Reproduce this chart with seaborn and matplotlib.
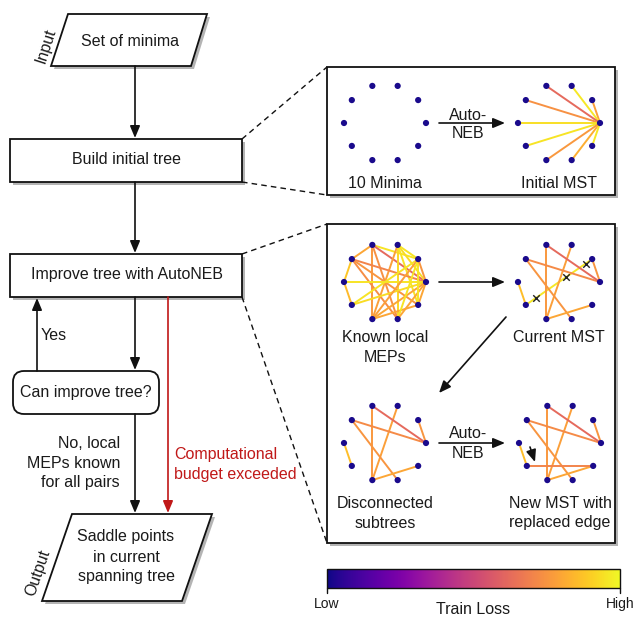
import numpy as np
import pandas as pd
import seaborn as sns
import matplotlib
matplotlib.use("Agg")
import matplotlib.pyplot as plt
from matplotlib.patches import Polygon, Rectangle, FancyBboxPatch, FancyArrowPatch

sns.set_theme(style="white")
plt.rcParams['font.family'] = ['Liberation Sans', 'DejaVu Sans']

# plasma is the train loss scale, nodes are the low end
cmap = sns.color_palette("plasma", as_cmap=True)
node_color = '#1a0a8c'
red = '#c01818'

# 10 minima, numbered counter-clockwise starting from the rightmost one
n_minima = 10
# edges: (minimum i, minimum j, train loss on 0..1)
initial_mst = [(0, 1, 0.78), (0, 2, 0.96), (0, 3, 0.62), (0, 4, 0.74), (0, 5, 0.94),
               (0, 6, 0.95), (0, 7, 0.76), (0, 8, 0.82), (0, 9, 0.96)]
known_meps = [(3, 4, 0.8), (3, 1, 0.95), (3, 0, 0.62), (3, 7, 0.76), (3, 8, 0.74),
              (2, 1, 0.95), (2, 0, 0.93), (2, 7, 0.78), (2, 8, 0.92), (2, 9, 0.95),
              (4, 0, 0.7), (4, 5, 0.88), (4, 9, 0.75), (4, 8, 0.73),
              (5, 0, 0.95), (5, 6, 0.85), (6, 1, 0.95), (6, 0, 0.93),
              (7, 1, 0.78), (7, 0, 0.8), (7, 9, 0.8), (8, 1, 0.95), (8, 0, 0.8),
              (9, 0, 0.8), (9, 1, 0.95), (1, 0, 0.75)]
current_mst = [(5, 6, 0.86), (6, 1, 0.96), (3, 7, 0.76), (2, 7, 0.78), (4, 0, 0.72),
               (3, 0, 0.62), (1, 0, 0.75), (4, 8, 0.75), (7, 9, 0.8)]
removed_edge = (6, 1)
cross_at = [0.15, 0.6, 0.9]
new_edge = (6, 9, 0.7)

disconnected = [e for e in current_mst if (e[0], e[1]) != removed_edge]
new_mst = disconnected + [new_edge]

fig = plt.figure(figsize=(6.35, 6.17), dpi=100)
ax = fig.add_axes([0, 0, 1, 1])
ax.set_axis_off()

fs = 11.5
tc = '#1a1a1a'


def node_xy(cx, cy, rx=41, ry=39):
    ang = np.deg2rad(np.arange(n_minima) * 360 / n_minima)
    return cx + rx * np.cos(ang), cy - ry * np.sin(ang)


def draw_graph(cx, cy, edges):
    xs, ys = node_xy(cx, cy)
    for i, j, v in edges:
        ax.plot([xs[i], xs[j]], [ys[i], ys[j]], color=cmap(v), lw=1.4, zorder=3,
                solid_capstyle='round')
    nodes = pd.DataFrame({'x': xs, 'y': ys})
    sns.scatterplot(data=nodes, x='x', y='y', ax=ax, color=node_color, s=20,
                    edgecolor='none', zorder=4, legend=False)
    return xs, ys


def arrow(x0, y0, x1, y1, color='#111111'):
    a = FancyArrowPatch((x0, y0), (x1, y1),
                        arrowstyle='-|>,head_length=0.6,head_width=0.25',
                        mutation_scale=12, lw=1.2, color=color,
                        shrinkA=0, shrinkB=0, zorder=5)
    ax.add_patch(a)


def box(x0, y0, x1, y1):
    ax.add_patch(Rectangle((x0 + 3, y0 + 3), x1 - x0, y1 - y0, color='#b4b4b4', lw=0, zorder=1))
    ax.add_patch(Rectangle((x0, y0), x1 - x0, y1 - y0, facecolor='white',
                           edgecolor='#111111', lw=1.3, zorder=2))


def para(pts):
    sh = [(x + 3, y + 3) for x, y in pts]
    ax.add_patch(Polygon(sh, closed=True, color='#b4b4b4', lw=0, zorder=1))
    ax.add_patch(Polygon(pts, closed=True, facecolor='white', edgecolor='#111111',
                         lw=1.3, zorder=2))


# ---- left flowchart
para([(68, 14), (207, 14), (191, 66), (51, 66)])
ax.text(130, 41, 'Set of minima', ha='center', va='center', fontsize=fs, color=tc, zorder=6)
ax.text(46, 46, 'Input', ha='center', va='center', fontsize=fs, color=tc, rotation=72, zorder=6)

box(10, 139, 242, 182)
ax.text(127, 160, 'Build initial tree', ha='center', va='center', fontsize=fs, color=tc, zorder=6)
box(10, 254, 242, 297)
ax.text(127, 275, 'Improve tree with AutoNEB', ha='center', va='center', fontsize=fs, color=tc, zorder=6)

ax.add_patch(FancyBboxPatch((13, 371), 146, 43, boxstyle='round,pad=0,rounding_size=11',
                            facecolor='white', edgecolor='#111111', lw=1.3, zorder=2))
ax.text(86, 392, 'Can improve tree?', ha='center', va='center', fontsize=fs, color=tc, zorder=6)

para([(72, 514), (212, 514), (182, 601), (42, 601)])
for k, line in enumerate(['Saddle points', 'in current', 'spanning tree']):
    ax.text(126, 537 + 20 * k, line, ha='center', va='center', fontsize=fs, color=tc, zorder=6)
ax.text(38, 573, 'Output', ha='center', va='center', fontsize=fs, color=tc, rotation=71, zorder=6)

arrow(135, 66, 135, 138)
arrow(135, 182, 135, 253)
arrow(135, 297, 135, 370)
arrow(37, 371, 37, 298)
ax.text(41, 336, 'Yes', ha='left', va='center', fontsize=fs, color=tc)
arrow(135, 414, 135, 513)
for k, line in enumerate(['No, local', 'MEPs known', 'for all pairs']):
    ax.text(120, 443 + 20 * k, line, ha='right', va='center', fontsize=fs, color=tc)
arrow(168, 297, 168, 513, color=red)
for k, line in enumerate(['Computational', 'budget exceeded']):
    ax.text(174, 454 + 20 * k, line, ha='left', va='center', fontsize=fs, color=red)

# dashed zoom lines
dash = dict(color='#111111', lw=1.0, ls=(0, (4, 3)), zorder=1)
ax.plot([242, 327], [139, 67], **dash)
ax.plot([242, 327], [182, 195], **dash)
ax.plot([242, 327], [254, 224], **dash)
ax.plot([242, 327], [297, 543], **dash)

# ---- right panels
box(327, 67, 615, 195)
draw_graph(385, 123, [])
draw_graph(559, 123, initial_mst)
arrow(439, 123, 505, 123)
ax.text(468, 115, 'Auto-', ha='center', va='center', fontsize=fs, color=tc)
ax.text(468, 134, 'NEB', ha='center', va='center', fontsize=fs, color=tc)
ax.text(385, 183, '10 Minima', ha='center', va='center', fontsize=fs, color=tc)
ax.text(559, 183, 'Initial MST', ha='center', va='center', fontsize=fs, color=tc)

box(327, 224, 615, 543)
draw_graph(385, 282, known_meps)
xs, ys = draw_graph(559, 282, current_mst)
i, j = removed_edge
for t in cross_at:
    ax.scatter(xs[i] + t * (xs[j] - xs[i]), ys[i] + t * (ys[j] - ys[i]), marker='x',
               s=22, color='#222222', lw=1.0, zorder=5)
arrow(439, 282, 505, 282)
arrow(506, 317, 439, 393)
ax.text(385, 338, 'Known local', ha='center', va='center', fontsize=fs, color=tc)
ax.text(385, 358, 'MEPs', ha='center', va='center', fontsize=fs, color=tc)
ax.text(559, 338, 'Current MST', ha='center', va='center', fontsize=fs, color=tc)

draw_graph(385, 443, disconnected)
draw_graph(560, 443, new_mst)
arrow(439, 443, 505, 443)
ax.text(468, 433, 'Auto-', ha='center', va='center', fontsize=fs, color=tc)
ax.text(468, 453, 'NEB', ha='center', va='center', fontsize=fs, color=tc)
arrow(530, 447, 535, 462)
ax.text(385, 504, 'Disconnected', ha='center', va='center', fontsize=fs, color=tc)
ax.text(385, 523, 'subtrees', ha='center', va='center', fontsize=fs, color=tc)
ax.text(560, 504, 'New MST with', ha='center', va='center', fontsize=fs, color=tc)
ax.text(560, 523, 'replaced edge', ha='center', va='center', fontsize=fs, color=tc)

# ---- colour bar
grad = np.linspace(0, 1, 256)[None, :]
ax.imshow(grad, extent=(327, 620, 588, 569), cmap=cmap, aspect='auto', zorder=2)
ax.add_patch(Rectangle((327, 569), 293, 19, fill=False, edgecolor='#111111', lw=1.0, zorder=3))
ax.plot([327, 327], [588, 593], color='#111111', lw=1.0)
ax.plot([620, 620], [588, 593], color='#111111', lw=1.0)
ax.text(327, 604, 'Low', ha='center', va='center', fontsize=10, color=tc)
ax.text(620, 604, 'High', ha='center', va='center', fontsize=10, color=tc)
ax.text(473, 610, 'Train Loss', ha='center', va='center', fontsize=fs, color=tc)

ax.set_xlim(0, 635)
ax.set_ylim(617, 0)
fig.savefig('out.png', dpi=100, facecolor='white')
